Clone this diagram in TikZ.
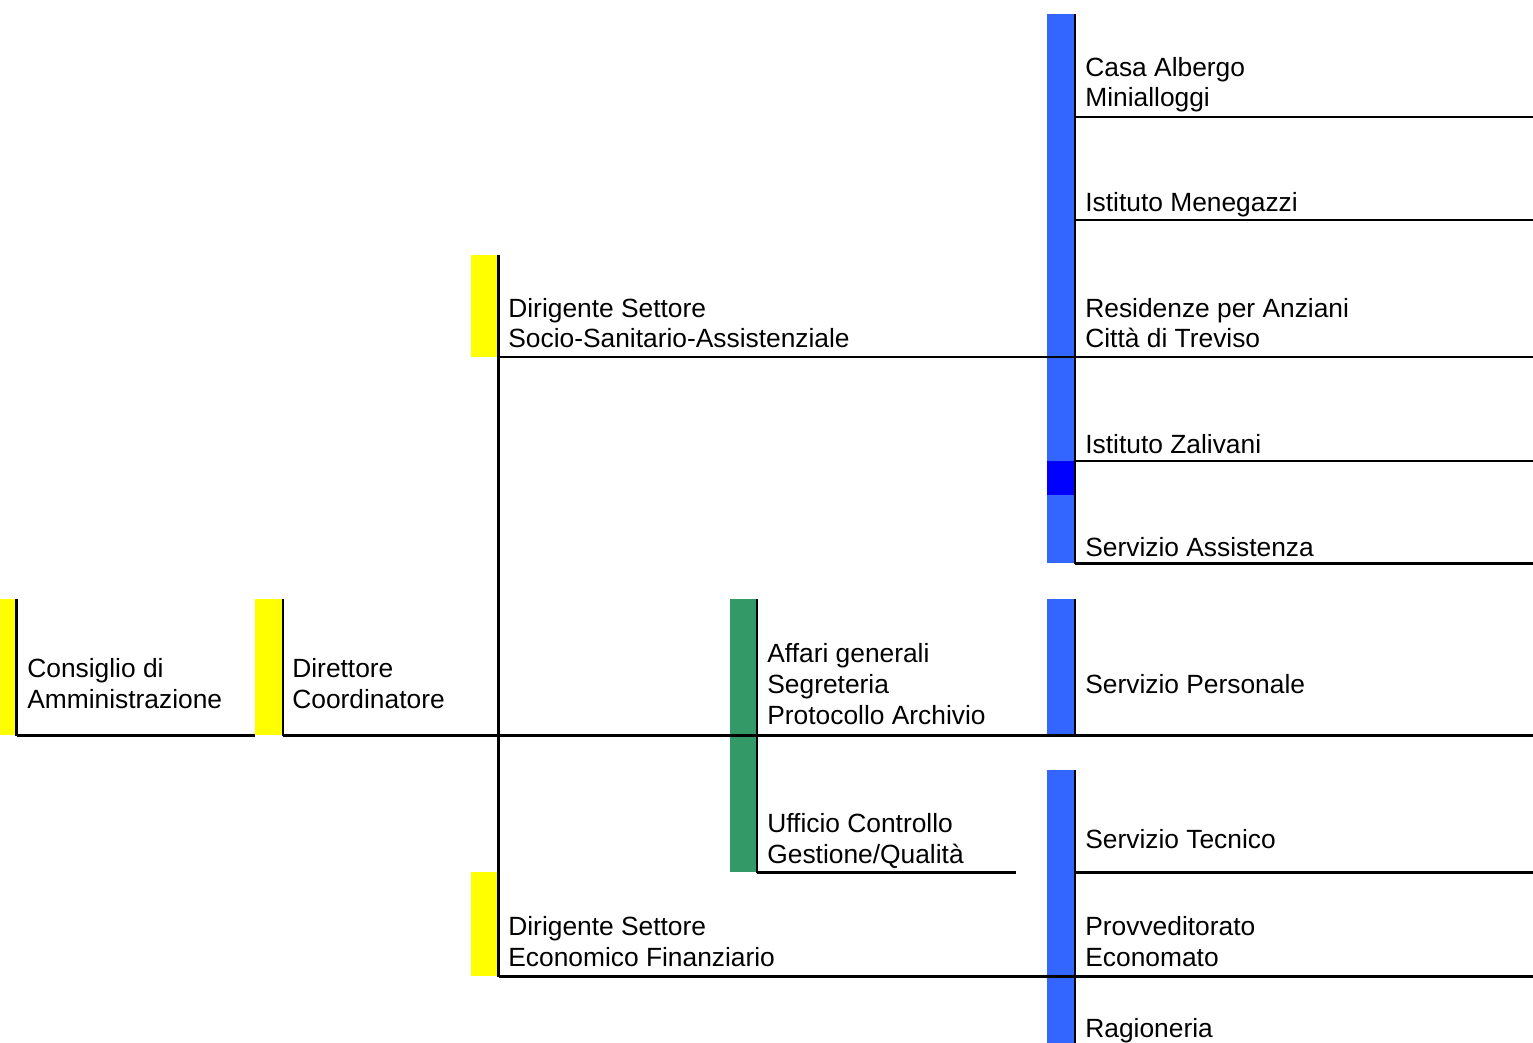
\documentclass[tikz,border=0pt]{standalone}
\usepackage{fontspec}
\setmainfont{Liberation Sans}
\usetikzlibrary{positioning}
\definecolor{baryellow}{RGB}{255,255,0}
\definecolor{barblue}{RGB}{51,102,255}
\definecolor{bardeep}{RGB}{0,0,255}
\definecolor{bargreen}{RGB}{51,153,102}
\tikzset{
  lbl/.style   = {anchor=base west, align=left, inner sep=0pt,
                  font=\fontsize{15}{17.4}\selectfont},
  ybar/.style  = {fill=baryellow},
  bbar/.style  = {fill=barblue},
  dbar/.style  = {fill=bardeep},
  gbar/.style  = {fill=bargreen},
  rule/.style  = {line width=1.4pt, black}
}

\begin{document}
\begin{tikzpicture}[x=0.02cm, y=-0.02cm]
  \useasboundingbox (0,0) rectangle (1533,1043);
  % ---- coloured bars ----
  \fill[ybar] (0,599)    rectangle (16,735);
  \fill[ybar] (255,599)  rectangle (282,735);
  \fill[ybar] (471,255)  rectangle (497,357);
  \fill[ybar] (471,872)  rectangle (497,976);
  \fill[gbar] (730,599)  rectangle (756,872);
  \fill[bbar] (1047,14)  rectangle (1074,563);
  \fill[dbar] (1047,461) rectangle (1074,495);
  \fill[bbar] (1047,599) rectangle (1074,735);
  \fill[bbar] (1047,770) rectangle (1074,1043);
  % ---- labels (anchored on the last line) ----
  \node[lbl] (cda)   at (27,708)   {Consiglio di\\Amministrazione};
  \node[lbl] (dir)   at (292,708)  {Direttore\\Coordinatore};
  \node[lbl] (dss)   at (508,348)  {Dirigente Settore\\Socio-Sanitario-Assistenziale};
  \node[lbl] (def)   at (508,966)  {Dirigente Settore\\Economico Finanziario};
  \node[lbl] (agen)  at (767,724)  {Affari generali\\Segreteria\\Protocollo Archivio};
  \node[lbl] (ucg)   at (767,863)  {Ufficio Controllo\\Gestione/Qualità};
  \node[lbl] (caa)   at (1085,107) {Casa Albergo\\Minialloggi};
  \node[lbl] (imen)  at (1085,212) {Istituto Menegazzi};
  \node[lbl] (rpa)   at (1085,348) {Residenze per Anziani\\Città di Treviso};
  \node[lbl] (izal)  at (1085,453) {Istituto Zalivani};
  \node[lbl] (sass)  at (1085,556) {Servizio Assistenza};
  \node[lbl] (spers) at (1085,693) {Servizio Personale};
  \node[lbl] (stec)  at (1085,848) {Servizio Tecnico};
  \node[lbl] (prov)  at (1085,966) {Provveditorato\\Economato};
  \node[lbl] (rag)   at (1085,1037){Ragioneria};
  % ---- vertical rules ----
  \draw[rule] (16.5,599)  -- (16.5,735.5);
  \draw[rule] (283,599)   -- (283,735.5);
  \draw[rule] (498.5,255) -- (498.5,976.5);
  \draw[rule] (757,599)   -- (757,872.5);
  \draw[rule] (1075,14)   -- (1075,563.5);
  \draw[rule] (1075,599)  -- (1075,735.5);
  \draw[rule] (1075,770)  -- (1075,1043);
  % ---- horizontal rules ----
  \draw[rule] (16.5,735.5) -- (255,735.5);
  \draw[rule] (283,735.5)  -- (1533,735.5);
  \draw[rule] (498.5,357)  -- (1533,357);
  \draw[rule] (498.5,976.5)-- (1533,976.5);
  \draw[rule] (757,872.5)  -- (1016,872.5);
  \foreach \yy in {117,220,461,563.5,872.5}
    \draw[rule] (1075,\yy) -- (1533,\yy);
\end{tikzpicture}
\end{document}
